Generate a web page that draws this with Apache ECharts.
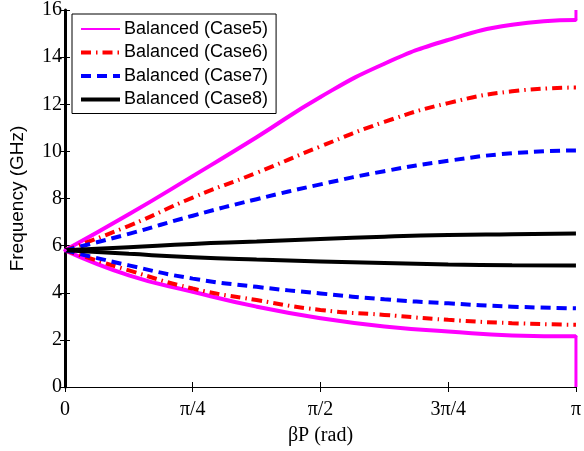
<!DOCTYPE html>
<html>
<head>
<meta charset="utf-8">
<script src="https://cdn.jsdelivr.net/npm/echarts@6/dist/echarts.min.js"></script>
<style>
  html, body { margin: 0; padding: 0; background: #fff; }
  #chart { width: 584px; height: 451px; }
</style>
</head>
<body>
<div id="chart"></div>
<script>
// βP sample points (rad), 0 .. π in steps of π/8
const betaP = [0, 0.3927, 0.7854, 1.1781, 1.5708, 1.9635, 2.3562, 2.7489, 3.1416];
const xTickLabels = ['0', 'π/4', 'π/2', '3π/4', 'π'];
const caseNames = ['Balanced (Case5)', 'Balanced (Case6)', 'Balanced (Case7)', 'Balanced (Case8)'];

// frequency (GHz), upper and lower branches
const case5Upper = [5.8, 7.33, 8.95, 10.6, 12.31, 13.72, 14.73, 15.37, 15.58];
const case5Lower = [5.8, 4.74, 4.04, 3.41, 2.92, 2.57, 2.36, 2.19, 2.15];
const case6Upper = [5.8, 6.84, 8.04, 9.09, 10.21, 11.25, 12.05, 12.55, 12.71];
const case6Lower = [5.8, 4.95, 4.18, 3.69, 3.27, 3.06, 2.85, 2.71, 2.64];
const case7Upper = [5.8, 6.5, 7.27, 7.97, 8.6, 9.16, 9.6, 9.92, 10.04];
const case7Lower = [5.8, 5.16, 4.6, 4.25, 3.97, 3.72, 3.55, 3.41, 3.34];
const case8Upper = [5.8, 5.93, 6.07, 6.17, 6.28, 6.38, 6.45, 6.48, 6.51];
const case8Lower = [5.8, 5.65, 5.51, 5.41, 5.33, 5.26, 5.2, 5.17, 5.16];

const serif = '"Liberation Serif", "Times New Roman", serif';
const sans = '"Liberation Sans", Arial, sans-serif';

const chart = echarts.init(document.getElementById('chart'));

// pair x values with a branch
function pts(ys) {
  return ys.map((y, i) => [betaP[i], y]);
}

function branch(name, ys, color, width, type, withDots) {
  return {
    name: name,
    type: 'line',
    data: pts(ys),
    smooth: true,
    clip: false,
    showSymbol: !!withDots,
    symbol: withDots ? 'circle' : 'none',
    symbolSize: 3,
    itemStyle: { color: color },
    lineStyle: { color: color, width: width, type: type },
    emphasis: { disabled: true },
    z: 3
  };
}

const dashDot = [10, 5, 1.5, 5];
const dashed = [10, 6];

const option = {
  animation: false,
  backgroundColor: '#fff',
  grid: { left: 65, right: 8, top: 9, bottom: 62 },
  legend: {
    data: [
      { name: caseNames[0], lineStyle: { width: 2 } },
      caseNames[1], caseNames[2], caseNames[3]
    ],
    orient: 'vertical',
    left: 72,
    top: 14,
    padding: [6, 8, 5, 7],
    itemWidth: 39,
    itemHeight: 4,
    itemGap: 5.5,
    itemStyle: { opacity: 0 },
    lineStyle: { width: 4 },
    borderColor: '#000',
    borderWidth: 1,
    backgroundColor: '#fff',
    textStyle: { fontFamily: sans, fontSize: 18, color: '#000', padding: [0, 0, 0, -1] }
  },
  xAxis: [
    {
      type: 'value',
      min: 0,
      max: Math.PI,
      interval: Math.PI / 4,
      name: 'βP (rad)',
      nameLocation: 'middle',
      nameGap: 39,
      nameTextStyle: { fontFamily: serif, fontSize: 20, color: '#000' },
      axisLine: { lineStyle: { color: '#000', width: 1 } },
      axisTick: { inside: true, length: 5, lineStyle: { color: '#000' } },
      axisLabel: {
        fontFamily: serif, fontSize: 20, color: '#000', margin: 13,
        formatter: v => xTickLabels[Math.round(v / (Math.PI / 4))]
      },
      splitLine: { show: false }
    },
    {
      type: 'value',
      position: 'top',
      min: 0,
      max: Math.PI,
      interval: Math.PI / 4,
      axisLine: { lineStyle: { color: '#000', width: 1 } },
      axisTick: { inside: true, length: 5, lineStyle: { color: '#000' } },
      axisLabel: { show: false },
      splitLine: { show: false }
    }
  ],
  yAxis: [
    {
      type: 'value',
      min: 0,
      max: 16,
      interval: 2,
      name: 'Frequency (GHz)',
      nameLocation: 'middle',
      nameGap: 38,
      nameTextStyle: { fontFamily: sans, fontSize: 19, color: '#000' },
      axisLine: { show: true, lineStyle: { color: '#000', width: 1 } },
      axisTick: { inside: true, length: 5, lineStyle: { color: '#000' } },
      axisLabel: { fontFamily: serif, fontSize: 20, color: '#000', margin: 3 },
      splitLine: { show: false }
    },
    {
      type: 'value',
      position: 'right',
      min: 0,
      max: 16,
      interval: 2,
      axisLine: { show: true, lineStyle: { color: '#000', width: 3 } },
      axisTick: { inside: true, length: 5, lineStyle: { color: '#000' } },
      axisLabel: { show: false },
      splitLine: { show: false }
    }
  ],
  series: [
    branch(caseNames[0], case5Upper, '#ff00ff', 4, 'solid', true),
    branch(caseNames[0], case5Lower, '#ff00ff', 4, 'solid', true),
    branch(caseNames[1], case6Upper, '#ff0000', 4, dashDot),
    branch(caseNames[1], case6Lower, '#ff0000', 4, dashDot),
    branch(caseNames[2], case7Upper, '#0000ff', 4, dashed),
    branch(caseNames[2], case7Lower, '#0000ff', 4, dashed),
    branch(caseNames[3], case8Upper, '#000000', 4, 'solid'),
    branch(caseNames[3], case8Lower, '#000000', 4, 'solid'),
    {
      // magenta closing segments at βP = π
      name: 'case5-edge',
      type: 'line',
      data: [[betaP[8], 0], [betaP[8], case5Lower[8]]],
      symbol: 'none',
      clip: false,
      lineStyle: { color: '#ff00ff', width: 3 },
      emphasis: { disabled: true },
      z: 4
    },
    {
      name: 'case5-edge-top',
      type: 'line',
      data: [[betaP[8], case5Upper[8]], [betaP[8], 16]],
      symbol: 'none',
      clip: false,
      lineStyle: { color: '#ff00ff', width: 3 },
      emphasis: { disabled: true },
      z: 4
    }
  ]
};

chart.setOption(option);
</script>
</body>
</html>
